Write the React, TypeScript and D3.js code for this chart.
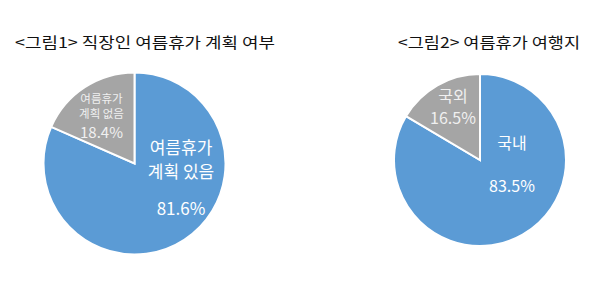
import React from "react";
import * as d3 from "d3";

const planCategories = ["여름휴가 계획 있음", "여름휴가 계획 없음"];
const planValues = [81.6, 18.4];
const planLabelLines = [["여름휴가", "계획 있음"], ["여름휴가", "계획 없음"]];

const destCategories = ["국내", "국외"];
const destValues = [83.5, 16.5];
const destLabelLines = [["국내"], ["국외"]];

const colors = ["#5B9BD5", "#A5A5A5"];
const FONT = "'Malgun Gothic', 'Noto Sans CJK KR', sans-serif";

type LabelStyle = { dx: number; dy: number; nameSize: number; pctSize: number; lineGap: number; pctGap: number; color: string };

function Pie({
  cx, cy, r, values, cats, lines, labelStyles,
}: {
  cx: number; cy: number; r: number; values: number[]; cats: string[]; lines: string[][]; labelStyles: LabelStyle[];
}) {
  const pie = d3.pie<number>().sort(null).value((d) => d);
  const arcs = pie(values);
  const arc = d3.arc<d3.PieArcDatum<number>>().innerRadius(0).outerRadius(r);
  return (
    <g transform={`translate(${cx},${cy})`}>
      {arcs.map((a, i) => (
        <path key={cats[i]} d={arc(a) || ""} fill={colors[i]} stroke="#fff" strokeWidth={2} strokeLinejoin="miter" />
      ))}
      {arcs.map((a, i) => {
        const s = labelStyles[i];
        const ls = lines[i];
        return (
          <text key={"l" + i} transform={`translate(${s.dx},${s.dy})`} fill={s.color} fontFamily={FONT} textAnchor="middle" dominantBaseline="central">
            {ls.map((t, j) => (
              <tspan key={j} x={0} y={j * s.lineGap} fontSize={s.nameSize}>{t}</tspan>
            ))}
            <tspan x={0} y={(ls.length - 1) * s.lineGap + s.pctGap} fontSize={s.pctSize}>
              {d3.format(".1f")(values[i]) + "%"}
            </tspan>
          </text>
        );
      })}
    </g>
  );
}

export default function App() {
  return (
    <svg width={600} height={299} style={{ display: "block", position: "absolute", left: 0, top: 0 }}>
      <rect width={600} height={299} fill="#fff" />
      <text x={15} y={41} fontSize={15} fontFamily={FONT} fill="#111" dominantBaseline="central" textLength={260} lengthAdjust="spacingAndGlyphs">
        {"<그림1> 직장인 여름휴가 계획 여부"}
      </text>
      <text x={398} y={41} fontSize={15} fontFamily={FONT} fill="#111" dominantBaseline="central" textLength={182} lengthAdjust="spacingAndGlyphs">
        {"<그림2> 여름휴가 여행지"}
      </text>
      <Pie
        cx={134.5} cy={163.5} r={91}
        values={planValues} cats={planCategories} lines={planLabelLines}
        labelStyles={[
          { dx: 46.5, dy: -18, nameSize: 17, pctSize: 17, lineGap: 24, pctGap: 37, color: "#fff" },
          { dx: -33, dy: -65.5, nameSize: 11.5, pctSize: 15, lineGap: 15, pctGap: 17.5, color: "#f0f0f0" },
        ]}
      />
      <Pie
        cx={480} cy={160} r={86}
        values={destValues} cats={destCategories} lines={destLabelLines}
        labelStyles={[
          { dx: 32, dy: -18, nameSize: 16, pctSize: 16, lineGap: 0, pctGap: 43, color: "#fff" },
          { dx: -27, dy: -65, nameSize: 16, pctSize: 16, lineGap: 0, pctGap: 22, color: "#f0f0f0" },
        ]}
      />
    </svg>
  );
}
